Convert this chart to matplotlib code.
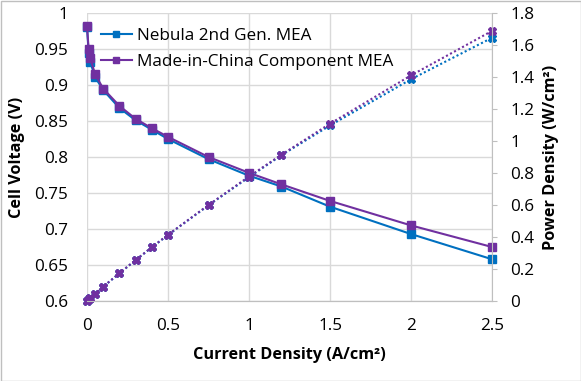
import matplotlib
matplotlib.use("Agg")
import matplotlib.pyplot as plt
from matplotlib.patches import Rectangle

plt.rcParams['font.family'] = ['Open Sans', 'DejaVu Sans']

current = [0, 0.01, 0.02, 0.05, 0.1, 0.2, 0.3, 0.4, 0.5, 0.75, 1.0, 1.2, 1.5, 2.0, 2.5]
v_nebula = [0.980, 0.945, 0.932, 0.911, 0.893, 0.868, 0.851, 0.838, 0.825, 0.797, 0.774, 0.759, 0.731, 0.693, 0.658]
v_china = [0.982, 0.950, 0.937, 0.915, 0.895, 0.871, 0.853, 0.840, 0.828, 0.800, 0.778, 0.762, 0.739, 0.705, 0.675]
p_nebula = [0, 0.0094, 0.0186, 0.0455, 0.089, 0.173, 0.255, 0.335, 0.4125, 0.598, 0.774, 0.911, 1.097, 1.386, 1.645]
p_china = [0, 0.0095, 0.0187, 0.0458, 0.0895, 0.174, 0.256, 0.336, 0.414, 0.600, 0.778, 0.914, 1.108, 1.410, 1.688]

blue = '#0070C0'
purple = '#7030A0'
grid_c = '#D9D9D9'
W, H = 581, 381

fig = plt.figure(figsize=(W / 100, H / 100), dpi=100)
ax = fig.add_axes([87 / W, 80 / H, 405 / W, 288 / H])
ax2 = ax.twinx()

ax.plot(current, v_nebula, color=blue, lw=1.5, marker='s', ms=6, clip_on=False, zorder=3,
        label='Nebula 2nd Gen. MEA')
ax.plot(current, v_china, color=purple, lw=1.5, marker='s', ms=6, clip_on=False, zorder=4,
        label='Made-in-China Component MEA')
ax2.plot(current, p_nebula, color=blue, lw=1.5, ls=(0, (1, 1.2)), marker='X', ms=6, clip_on=False)
ax2.plot(current, p_china, color=purple, lw=1.5, ls=(0, (1, 1.2)), marker='X', ms=6, clip_on=False)

ax.set_xlim(0, 2.5)
ax.set_ylim(0.6, 1.0)
ax2.set_ylim(0, 1.8)
ax.set_xticks([0, 0.5, 1, 1.5, 2, 2.5])
ax.set_xticklabels(['0', '0.5', '1', '1.5', '2', '2.5'])
ax.set_yticks([0.6, 0.65, 0.7, 0.75, 0.8, 0.85, 0.9, 0.95, 1.0])
ax.set_yticklabels(['0.6', '0.65', '0.7', '0.75', '0.8', '0.85', '0.9', '0.95', '1'])
ax2.set_yticks([0, 0.2, 0.4, 0.6, 0.8, 1.0, 1.2, 1.4, 1.6, 1.8])
ax2.set_yticklabels(['0', '0.2', '0.4', '0.6', '0.8', '1', '1.2', '1.4', '1.6', '1.8'])

ax.grid(True, color=grid_c, lw=1)
ax.set_axisbelow(True)
for a in (ax, ax2):
    for s in ['top', 'left']:
        a.spines[s].set_visible(False)
    a.spines['bottom'].set_color('#BFBFBF')
    a.spines['right'].set_color('#BFBFBF')
ax.spines['right'].set_visible(False)
fs = 12.3
ax.tick_params(axis='x', length=0, labelsize=fs, pad=12)
ax.tick_params(axis='y', length=0, labelsize=fs, pad=13.5)
ax2.tick_params(axis='y', length=3.6, color='#BFBFBF', labelsize=fs, pad=9.8)

lfs = 11.7
fig.text(289.5 / W, 1 - 355 / H, 'Current Density (A/cm²)', fontsize=lfs, fontweight='bold',
         ha='center', va='center')
fig.text(17 / W, 1 - 157 / H, 'Cell Voltage (V)', fontsize=lfs, fontweight='bold',
         ha='center', va='center', rotation=90)
fig.text(551 / W, 1 - 157 / H, 'Power Density (W/cm²)', fontsize=lfs, fontweight='bold',
         ha='center', va='center', rotation=90)

fig.legend(*ax.get_legend_handles_labels(), loc='upper left',
           bbox_to_anchor=(101 / W, 1 - 28 / H), bbox_transform=fig.transFigure,
           frameon=False, fontsize=fs, handlelength=1.8, handletextpad=0.3,
           labelspacing=0.6, borderpad=0, borderaxespad=0, markerscale=0.65)

fig.patches.append(Rectangle((0.5 / W, 0.5 / H), 1 - 1 / W, 1 - 1 / H, transform=fig.transFigure,
                             fill=False, edgecolor='#BFBFBF', lw=1))

fig.savefig('out.png', dpi=100)
